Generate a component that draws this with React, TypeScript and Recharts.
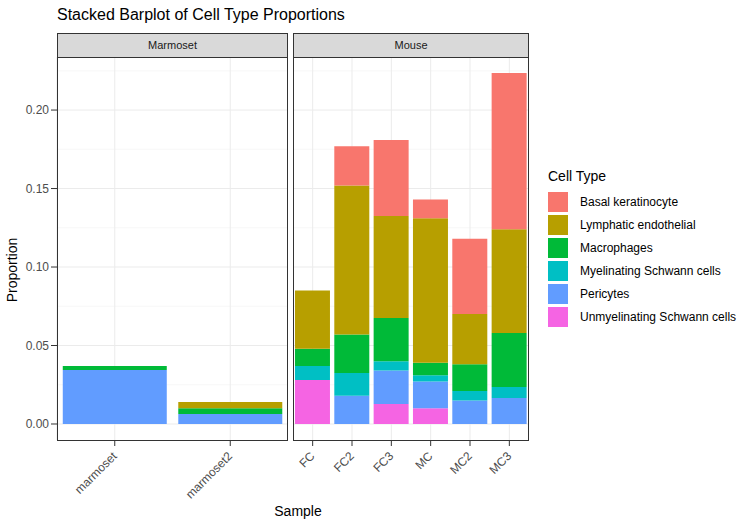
import { Bar, BarChart, CartesianGrid, XAxis, YAxis } from "recharts";

const types = ["Unmyelinating Schwann cells", "Pericytes", "Myelinating Schwann cells", "Macrophages", "Lymphatic endothelial", "Basal keratinocyte"];
const colors = ["#F564E3", "#619CFF", "#00BFC4", "#00BA38", "#B79F00", "#F8766D"];
const legendOrder = [5, 4, 3, 2, 1, 0];

const marmosetSamples = ["marmoset", "marmoset2"];
const marmosetValues = [
  [0, 0.0344, 0, 0.0026, 0, 0],
  [0, 0.0064, 0, 0.0036, 0.004, 0],
];
const mouseSamples = ["FC", "FC2", "FC3", "MC", "MC2", "MC3"];
const mouseValues = [
  [0.028, 0, 0.009, 0.011, 0.037, 0],
  [0, 0.018, 0.0145, 0.0245, 0.095, 0.025],
  [0.0127, 0.0213, 0.006, 0.0275, 0.065, 0.0485],
  [0.01, 0.017, 0.004, 0.008, 0.092, 0.012],
  [0, 0.015, 0.006, 0.017, 0.032, 0.048],
  [0, 0.0166, 0.007, 0.0344, 0.066, 0.0996],
];

const yTicks = [0, 0.05, 0.1, 0.15, 0.2];
const yMinor = [0.025, 0.075, 0.125, 0.175, 0.225];
const domain: [number, number] = [-0.0102, 0.2338];
const font = "'Liberation Sans', Arial, sans-serif";

const build = (samples: string[], vals: number[][]) =>
  samples.map((s, i) => {
    const row: Record<string, string | number> = { sample: s };
    types.forEach((t, j) => (row[t] = vals[i][j]));
    return row;
  });

const RotTick = ({ x, y, payload }: any) => (
  <text x={x} y={y + 6} transform={`rotate(-45 ${x} ${y + 6})`} textAnchor="end" fill="#4D4D4D" fontSize={12} fontFamily={font} dy={4}>
    {payload.value}
  </text>
);

function Panel({ samples, vals, left, width, label, showY }: { samples: string[]; vals: number[][]; left: number; width: number; label: string; showY: boolean }) {
  const yw = showY ? 57 : 0;
  return (
    <>
      <div style={{ position: "absolute", left: left + yw, top: 33, width: width - yw - 2, height: 23, background: "#D9D9D9", border: "1px solid #333", fontSize: 11, color: "#1A1A1A", textAlign: "center", lineHeight: "23px" }}>{label}</div>
      <div style={{ position: "absolute", left, top: 0 }}>
        <BarChart width={width} height={527} data={build(samples, vals)} margin={{ top: 57, right: 0, bottom: 0, left: 0 }} barCategoryGap="5%">
          <CartesianGrid stroke="#F2F2F2" strokeWidth={0.6} horizontalValues={yMinor} vertical={false} />
          <CartesianGrid stroke="#EBEBEB" horizontalValues={yTicks} />
          <XAxis dataKey="sample" height={87} tick={<RotTick />} tickLine={{ stroke: "#333" }} axisLine={false} interval={0} />
          <YAxis hide={!showY} width={yw} domain={domain} ticks={yTicks} allowDataOverflow tickFormatter={(v: number) => v.toFixed(2)} tick={{ fill: "#4D4D4D", fontSize: 12 }} tickLine={{ stroke: "#333" }} axisLine={false} />
          {types.map((t, i) => (
            <Bar key={t} dataKey={t} stackId="a" fill={colors[i]} isAnimationActive={false} />
          ))}
        </BarChart>
      </div>
      <div style={{ position: "absolute", left: left + yw, top: 57, width: width - yw - 2, height: 382, border: "1px solid #333", pointerEvents: "none" }} />
    </>
  );
}

export default function App() {
  return (
    <div style={{ position: "fixed", left: 0, top: 0, width: 756, height: 527, background: "#fff", fontFamily: font }}>
      <div style={{ position: "absolute", left: 57, top: 6, fontSize: 16, color: "#000" }}>Stacked Barplot of Cell Type Proportions</div>
      <Panel samples={marmosetSamples} vals={marmosetValues} left={0} width={288} label="Marmoset" showY />
      <Panel samples={mouseSamples} vals={mouseValues} left={293} width={236} label="Mouse" showY={false} />
      <div style={{ position: "absolute", left: -28, top: 262, width: 80, textAlign: "center", transform: "rotate(-90deg)", fontSize: 14 }}>Proportion</div>
      <div style={{ position: "absolute", left: 248, top: 503, width: 100, textAlign: "center", fontSize: 14 }}>Sample</div>
      <div style={{ position: "absolute", left: 548, top: 168 }}>
        <div style={{ fontSize: 14, marginBottom: 6 }}>Cell Type</div>
        {legendOrder.map((i) => (
          <div key={i} style={{ display: "flex", alignItems: "center", height: 23 }}>
            <div style={{ width: 20, height: 20, background: colors[i], marginRight: 12 }} />
            <span style={{ fontSize: 12 }}>{types[i]}</span>
          </div>
        ))}
      </div>
    </div>
  );
}
